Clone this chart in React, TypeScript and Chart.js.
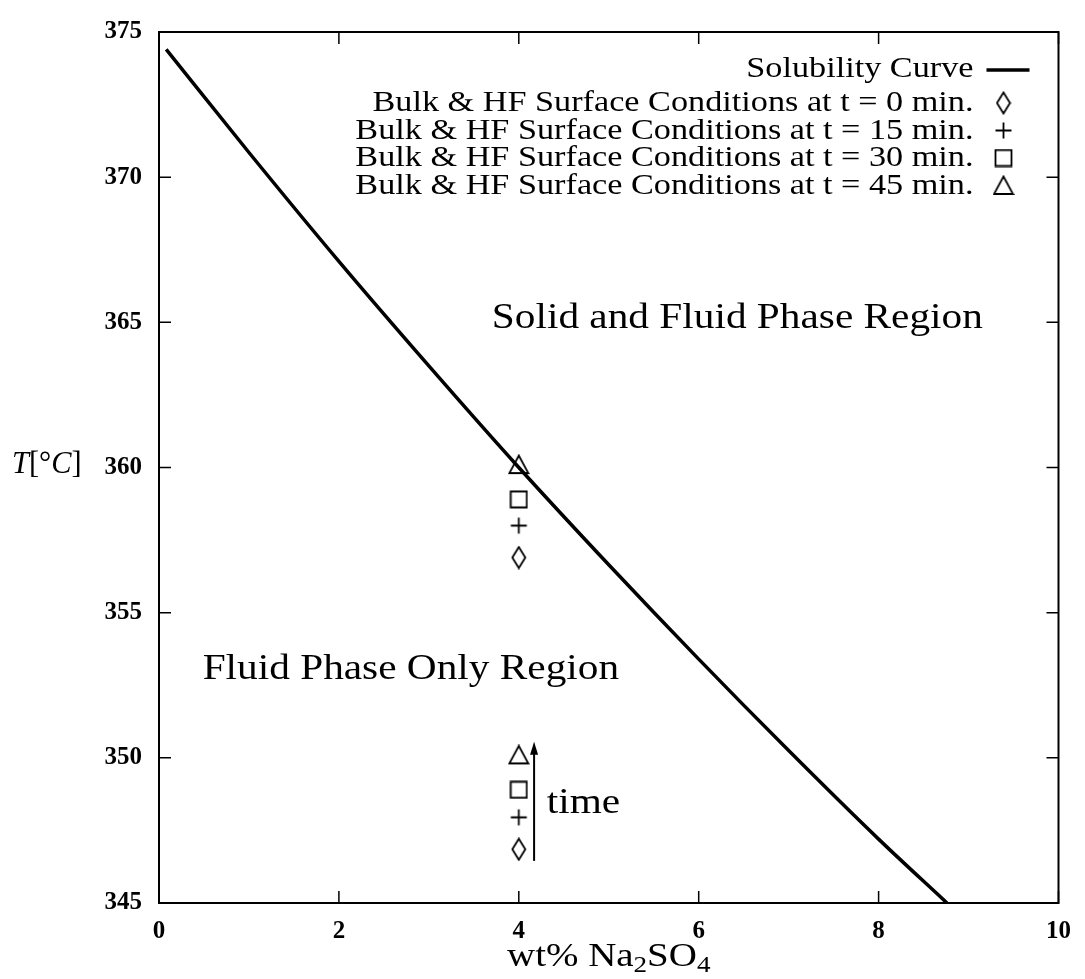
import React, { useEffect, useRef } from "react";
import { Chart, registerables } from "chart.js";
Chart.register(...registerables);

// ---- data ----
const curveX = [0.08, 1, 2, 3, 4, 5, 6, 7, 8, 8.76];
const curveT = [374.4, 370.85, 367.1, 363.5, 360.0, 356.65, 353.4, 350.25, 347.2, 345.0];
const markerX = [4, 4];
const t0T = [356.9, 346.85];
const t15T = [358.0, 347.95];
const t30T = [358.9, 348.9];
const t45T = [360.1, 350.1];
const legendLabels = [
  "Solubility Curve",
  "Bulk & HF Surface Conditions at t = 0 min.",
  "Bulk & HF Surface Conditions at t = 15 min.",
  "Bulk & HF Surface Conditions at t = 30 min.",
  "Bulk & HF Surface Conditions at t = 45 min.",
];
const xTicks = [0, 2, 4, 6, 8, 10];
const yTicks = [345, 350, 355, 360, 365, 370, 375];
const arrowX = 4.17;
const arrowFromT = 346.45;
const arrowToT = 350.55;
const annotations = [
  { text: "Solid and Fluid Phase Region", x: 3.7, y: 364.8 },
  { text: "Fluid Phase Only Region", x: 0.485, y: 352.7 },
  { text: "time", x: 4.31, y: 348.1 },
];

const FONT = '"Liberation Serif", "Times New Roman", serif';
const STRETCH = 1.18;

function makeMarker(kind: string): HTMLCanvasElement {
  const c = document.createElement("canvas");
  let w = 19, h = 19;
  if (kind === "diamond") { w = 16; h = 24; }
  if (kind === "triangle") { w = 22; h = 21; }
  c.width = w; c.height = h;
  const g = c.getContext("2d")!;
  g.strokeStyle = "#000";
  g.lineWidth = 1.8;
  g.beginPath();
  if (kind === "diamond") {
    g.moveTo(8, 1.5); g.lineTo(14.5, 12); g.lineTo(8, 22.5); g.lineTo(1.5, 12); g.closePath();
  } else if (kind === "plus") {
    g.moveTo(1.5, 9.5); g.lineTo(17.5, 9.5); g.moveTo(9.5, 1.5); g.lineTo(9.5, 17.5);
  } else if (kind === "square") {
    g.rect(1.5, 1.5, 16, 16);
  } else {
    g.moveTo(11, 1.5); g.lineTo(20.5, 19); g.lineTo(1.5, 19); g.closePath();
  }
  g.stroke();
  return c;
}

function drawText(ctx: CanvasRenderingContext2D, text: string, x: number, y: number, size: number, align: string, style = "", stretch = STRETCH) {
  ctx.save();
  ctx.font = `${style} ${size}px ${FONT}`;
  const w = ctx.measureText(text).width * stretch;
  const x0 = align === "right" ? x - w : align === "center" ? x - w / 2 : x;
  ctx.translate(x0, y);
  ctx.scale(stretch, 1);
  ctx.textAlign = "left";
  ctx.textBaseline = "alphabetic";
  ctx.fillStyle = "#000";
  ctx.fillText(text, 0, 0);
  ctx.restore();
  return w;
}

function measure(ctx: CanvasRenderingContext2D, text: string, size: number, style = "", stretch = STRETCH) {
  ctx.save();
  ctx.font = `${style} ${size}px ${FONT}`;
  const w = ctx.measureText(text).width * stretch;
  ctx.restore();
  return w;
}

export default function App() {
  const ref = useRef<HTMLCanvasElement>(null);
  useEffect(() => {
    document.body.style.margin = "0";
    const markers = {
      diamond: makeMarker("diamond"),
      plus: makeMarker("plus"),
      square: makeMarker("square"),
      triangle: makeMarker("triangle"),
    };
    const markerList = [markers.diamond, markers.plus, markers.square, markers.triangle];

    const overlay = {
      id: "overlay",
      afterDraw(chart: any) {
        const ctx: CanvasRenderingContext2D = chart.ctx;
        const xs = chart.scales.x;
        const ys = chart.scales.y;
        const a = chart.chartArea;
        ctx.save();
        // frame
        ctx.strokeStyle = "#000";
        ctx.lineWidth = 2;
        ctx.strokeRect(a.left, a.top, a.right - a.left, a.bottom - a.top);
        // inward ticks
        ctx.lineWidth = 1.5;
        const TL = 12;
        ctx.beginPath();
        for (const v of xTicks) {
          const px = xs.getPixelForValue(v);
          ctx.moveTo(px, a.bottom); ctx.lineTo(px, a.bottom - TL);
          ctx.moveTo(px, a.top); ctx.lineTo(px, a.top + TL);
        }
        for (const v of yTicks) {
          const py = ys.getPixelForValue(v);
          ctx.moveTo(a.left, py); ctx.lineTo(a.left + TL, py);
          ctx.moveTo(a.right, py); ctx.lineTo(a.right - TL, py);
        }
        ctx.stroke();

        // annotations
        for (const an of annotations) {
          drawText(ctx, an.text, xs.getPixelForValue(an.x), ys.getPixelForValue(an.y), 35, "left");
        }

        // arrow
        const ax = xs.getPixelForValue(arrowX);
        const ay0 = ys.getPixelForValue(arrowFromT);
        const ay1 = ys.getPixelForValue(arrowToT);
        ctx.lineWidth = 2;
        ctx.beginPath();
        ctx.moveTo(ax, ay0); ctx.lineTo(ax, ay1 + 8);
        ctx.stroke();
        ctx.beginPath();
        ctx.moveTo(ax, ay1); ctx.lineTo(ax - 4, ay1 + 13); ctx.lineTo(ax + 4, ay1 + 13); ctx.closePath();
        ctx.fillStyle = "#000";
        ctx.fill();

        // legend
        const textRight = a.right - 85;
        const rowCenters = [a.top + 38, a.top + 71, a.top + 98.5, a.top + 126, a.top + 153.5];
        legendLabels.forEach((lab, i) => {
          const cy = rowCenters[i];
          drawText(ctx, lab, textRight, cy + (i === 0 ? 7 : 8), 29, "right");
          if (i === 0) {
            ctx.lineWidth = 3.5;
            ctx.beginPath();
            ctx.moveTo(textRight + 13, cy); ctx.lineTo(textRight + 56, cy);
            ctx.stroke();
          } else {
            const m = markerList[i - 1];
            ctx.drawImage(m, textRight + 30 - m.width / 2, cy - m.height / 2);
          }
        });

        // y title T[°C]
        {
          let x = 12;
          const by = 473;
          const s = 32;
          const st = 0.95;
          x += drawText(ctx, "T", x, by, s, "left", "italic", st);
          x += drawText(ctx, "[", x, by, s, "left", "", st);
          x += drawText(ctx, "°", x, by, s, "left", "", st);
          x += drawText(ctx, "C", x, by, s, "left", "italic", st);
          drawText(ctx, "]", x, by, s, "left", "", st);
        }

        // x title wt% Na2SO4
        {
          const s = 33, ss = 23, by = 966;
          const parts = [
            { t: "wt% Na", s, dy: 0 },
            { t: "2", s: ss, dy: 6 },
            { t: "SO", s, dy: 0 },
            { t: "4", s: ss, dy: 6 },
          ];
          const total = parts.reduce((acc, p) => acc + measure(ctx, p.t, p.s), 0);
          let x = (a.left + a.right) / 2 - total / 2;
          for (const p of parts) {
            x += drawText(ctx, p.t, x, by + p.dy, p.s, "left");
          }
        }
        ctx.restore();
      },
    };

    const pointDs = (label: string, data: number[], style: HTMLCanvasElement) => ({
      label,
      data: markerX.map((x, i) => ({ x, y: data[i] })),
      showLine: false,
      pointStyle: style,
      pointRadius: 8,
      borderColor: "#000",
      backgroundColor: "#000",
    });

    const chart = new Chart(ref.current!, {
      type: "scatter",
      data: {
        datasets: [
          {
            label: legendLabels[0],
            data: curveX.map((x, i) => ({ x, y: curveT[i] })),
            showLine: true,
            borderColor: "#000",
            borderWidth: 3.5,
            pointRadius: 0,
            cubicInterpolationMode: "monotone",
          } as any,
          pointDs(legendLabels[1], t0T, markers.diamond),
          pointDs(legendLabels[2], t15T, markers.plus),
          pointDs(legendLabels[3], t30T, markers.square),
          pointDs(legendLabels[4], t45T, markers.triangle),
        ],
      },
      options: {
        responsive: false,
        animation: false,
        devicePixelRatio: 1,
        layout: { padding: { left: 0, top: 21, right: 18, bottom: 0 } },
        plugins: { legend: { display: false }, tooltip: { enabled: false } },
        scales: {
          x: {
            type: "linear",
            min: 0,
            max: 10,
            afterFit: (s: any) => { s.height = 76; },
            afterBuildTicks: (s: any) => { s.ticks = xTicks.map((v) => ({ value: v })); },
            ticks: { color: "#000", padding: 14, font: { family: FONT, size: 25, weight: "bold" } },
            grid: { display: false, drawTicks: false },
            border: { display: false },
          },
          y: {
            type: "linear",
            min: 345,
            max: 375,
            afterFit: (s: any) => { s.width = 159; },
            afterBuildTicks: (s: any) => { s.ticks = yTicks.map((v) => ({ value: v })); },
            ticks: { color: "#000", padding: 17, font: { family: FONT, size: 25, weight: "bold" } },
            grid: { display: false, drawTicks: false },
            border: { display: false },
          },
        },
      },
      plugins: [overlay],
    });
    return () => chart.destroy();
  }, []);
  return (
    <div style={{ width: 1085, height: 979, background: "#fff" }}>
      <canvas ref={ref} width={1085} height={979} style={{ display: "block" }} />
    </div>
  );
}
